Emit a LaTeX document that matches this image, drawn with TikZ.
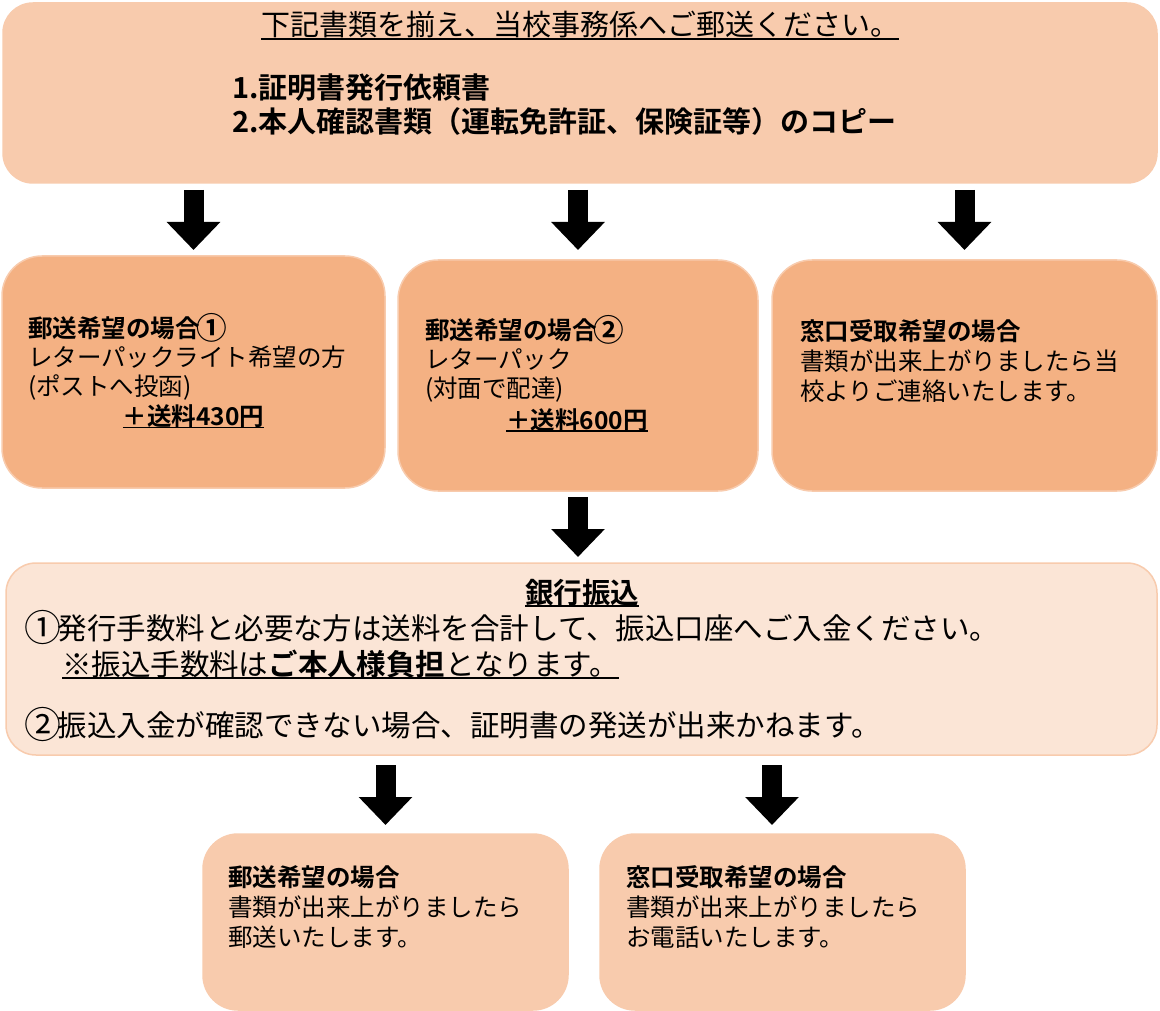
\documentclass[tikz,border=0pt]{standalone}
\usepackage{fontspec}
\setmainfont{Noto Sans CJK JP}[BoldFont={Noto Sans CJK JP Bold}]
\usetikzlibrary{arrows.meta}
\definecolor{peach}{HTML}{F8CBAD}
\definecolor{orangeb}{HTML}{F4B183}
\definecolor{pale}{HTML}{FBE5D6}
\newcommand{\myul}[1]{\setbox0\hbox{#1}\rlap{\rule[-0.13em]{\wd0}{0.07em}}\box0}
\newcommand{\circnum}[1]{\makebox[1em]{\raisebox{-0.09em}{\scalebox{1.25}{#1}}}}
\begin{document}
\begin{tikzpicture}[x=1pt,y=-1pt,
  box/.style={rectangle, rounded corners=#1, draw, line width=1.5pt, outer sep=0pt, inner sep=0pt},
  box/.default=30pt,
  t/.style={inner sep=0pt, outer sep=0pt, anchor=base west, font=\fontsize{24.5}{29.5}\selectfont},
  tc/.style={t, anchor=base},
  tb/.style={inner sep=0pt, outer sep=0pt, anchor=base west, font=\fontsize{29.5}{34}\selectfont},
  bigarrow/.style={line width=20pt, -{Triangle[width=52pt,length=28pt]}}]
\useasboundingbox[fill=white] (0,0) rectangle (1160,1011);

% boxes
\node[box=30pt, fill=peach, draw=peach, minimum width=1154pt, minimum height=180pt] (top) at (580,93) {};
\node[box=40pt, fill=orangeb, draw=peach, minimum width=383pt, minimum height=232pt] (A) at (193.5,372) {};
\node[box=40pt, fill=orangeb, draw=peach, minimum width=360pt, minimum height=231pt] (B) at (578,375.5) {};
\node[box=40pt, fill=orangeb, draw=peach, minimum width=385pt, minimum height=231pt] (C) at (964.5,375.5) {};
\node[box=30pt, fill=pale, draw=peach, minimum width=1151pt, minimum height=192pt] (bank) at (581.5,659) {};
\node[box=35pt, fill=peach, draw=peach, minimum width=365pt, minimum height=176pt] (D) at (385.5,922) {};
\node[box=35pt, fill=peach, draw=peach, minimum width=365pt, minimum height=176pt] (E) at (782.5,922) {};

% top texts
\node[inner sep=0pt, anchor=base, font=\fontsize{29}{34}\selectfont] (title) at (580,36) {\myul{下記書類を揃え、当校事務係へご郵送ください。}};
\node[inner sep=0pt, anchor=base west, font=\bfseries\fontsize{29}{34}\selectfont] (l1) at (232,99) {1.証明書発行依頼書};
\node[inner sep=0pt, anchor=base west, font=\bfseries\fontsize{29}{34}\selectfont] (l2) at (232,133) {2.本人確認書類（運転免許証、保険証等）のコピー};

% box A
\node[t] (a1) at (28,337.3) {\textbf{郵送希望の場合\circnum{①}}};
\node[t] (a2) at (28,366.3) {レターパックライト希望の方};
\node[t] (a3) at (28,395.3) {(ポストへ投函)};
\node[tc] (a4) at (193.5,425.3) {\myul{\textbf{＋送料430円}}};
% box B
\node[t] (b1) at (425,339.3) {\textbf{郵送希望の場合\circnum{②}}};
\node[t] (b2) at (425,368.3) {レターパック};
\node[t] (b3) at (425,397.3) {(対面で配達)};
\node[tc] (b4) at (577,429) {\myul{\textbf{＋送料600円}}};
% box C
\node[t] (c1) at (800,340.3) {\textbf{窓口受取希望の場合}};
\node[t] (c2) at (800,370.3) {書類が出来上がりましたら当};
\node[t] (c3) at (800,400.3) {校よりご連絡いたします。};

% bank
\node[inner sep=0pt, anchor=base, font=\bfseries\fontsize{28.5}{34}\selectfont] (k0) at (582,603) {\myul{銀行振込}};
\node[tb] (k1) at (28,639.2) {\circnum{①}発行手数料と必要な方は送料を合計して、振込口座へご入金ください。};
\node[tb] (k2) at (62,675.2) {\myul{※振込手数料は\textbf{ご本人様負担}となります。}};
\node[tb] (k3) at (28,736.2) {\circnum{②}振込入金が確認できない場合、証明書の発送が出来かねます。};

% box D
\node[t] (d1) at (228,886.3) {\textbf{郵送希望の場合}};
\node[t] (d2) at (228,916.3) {書類が出来上がりましたら};
\node[t] (d3) at (228,946.3) {郵送いたします。};
% box E
\node[t] (e1) at (626,886.3) {\textbf{窓口受取希望の場合}};
\node[t] (e2) at (626,916.3) {書類が出来上がりましたら};
\node[t] (e3) at (626,946.3) {お電話いたします。};

% arrows
\coordinate (eIn) at ([xshift=-10.5pt]E.north);
\draw[bigarrow, shorten <=7pt, shorten >=6pt] (top.south -| A.north) -- (A.north);
\draw[bigarrow, shorten <=7pt, shorten >=10pt] (top.south -| B.north) -- (B.north);
\draw[bigarrow, shorten <=7pt, shorten >=10pt] (top.south -| C.north) -- (C.north);
\draw[bigarrow, shorten <=6pt, shorten >=6pt] (B.south) -- (B.south |- bank.north);
\draw[bigarrow, shorten <=10pt, shorten >=9pt] (bank.south -| D.north) -- (D.north);
\draw[bigarrow, shorten <=10pt, shorten >=9pt] (bank.south -| eIn) -- (eIn);
\end{tikzpicture}
\end{document}
